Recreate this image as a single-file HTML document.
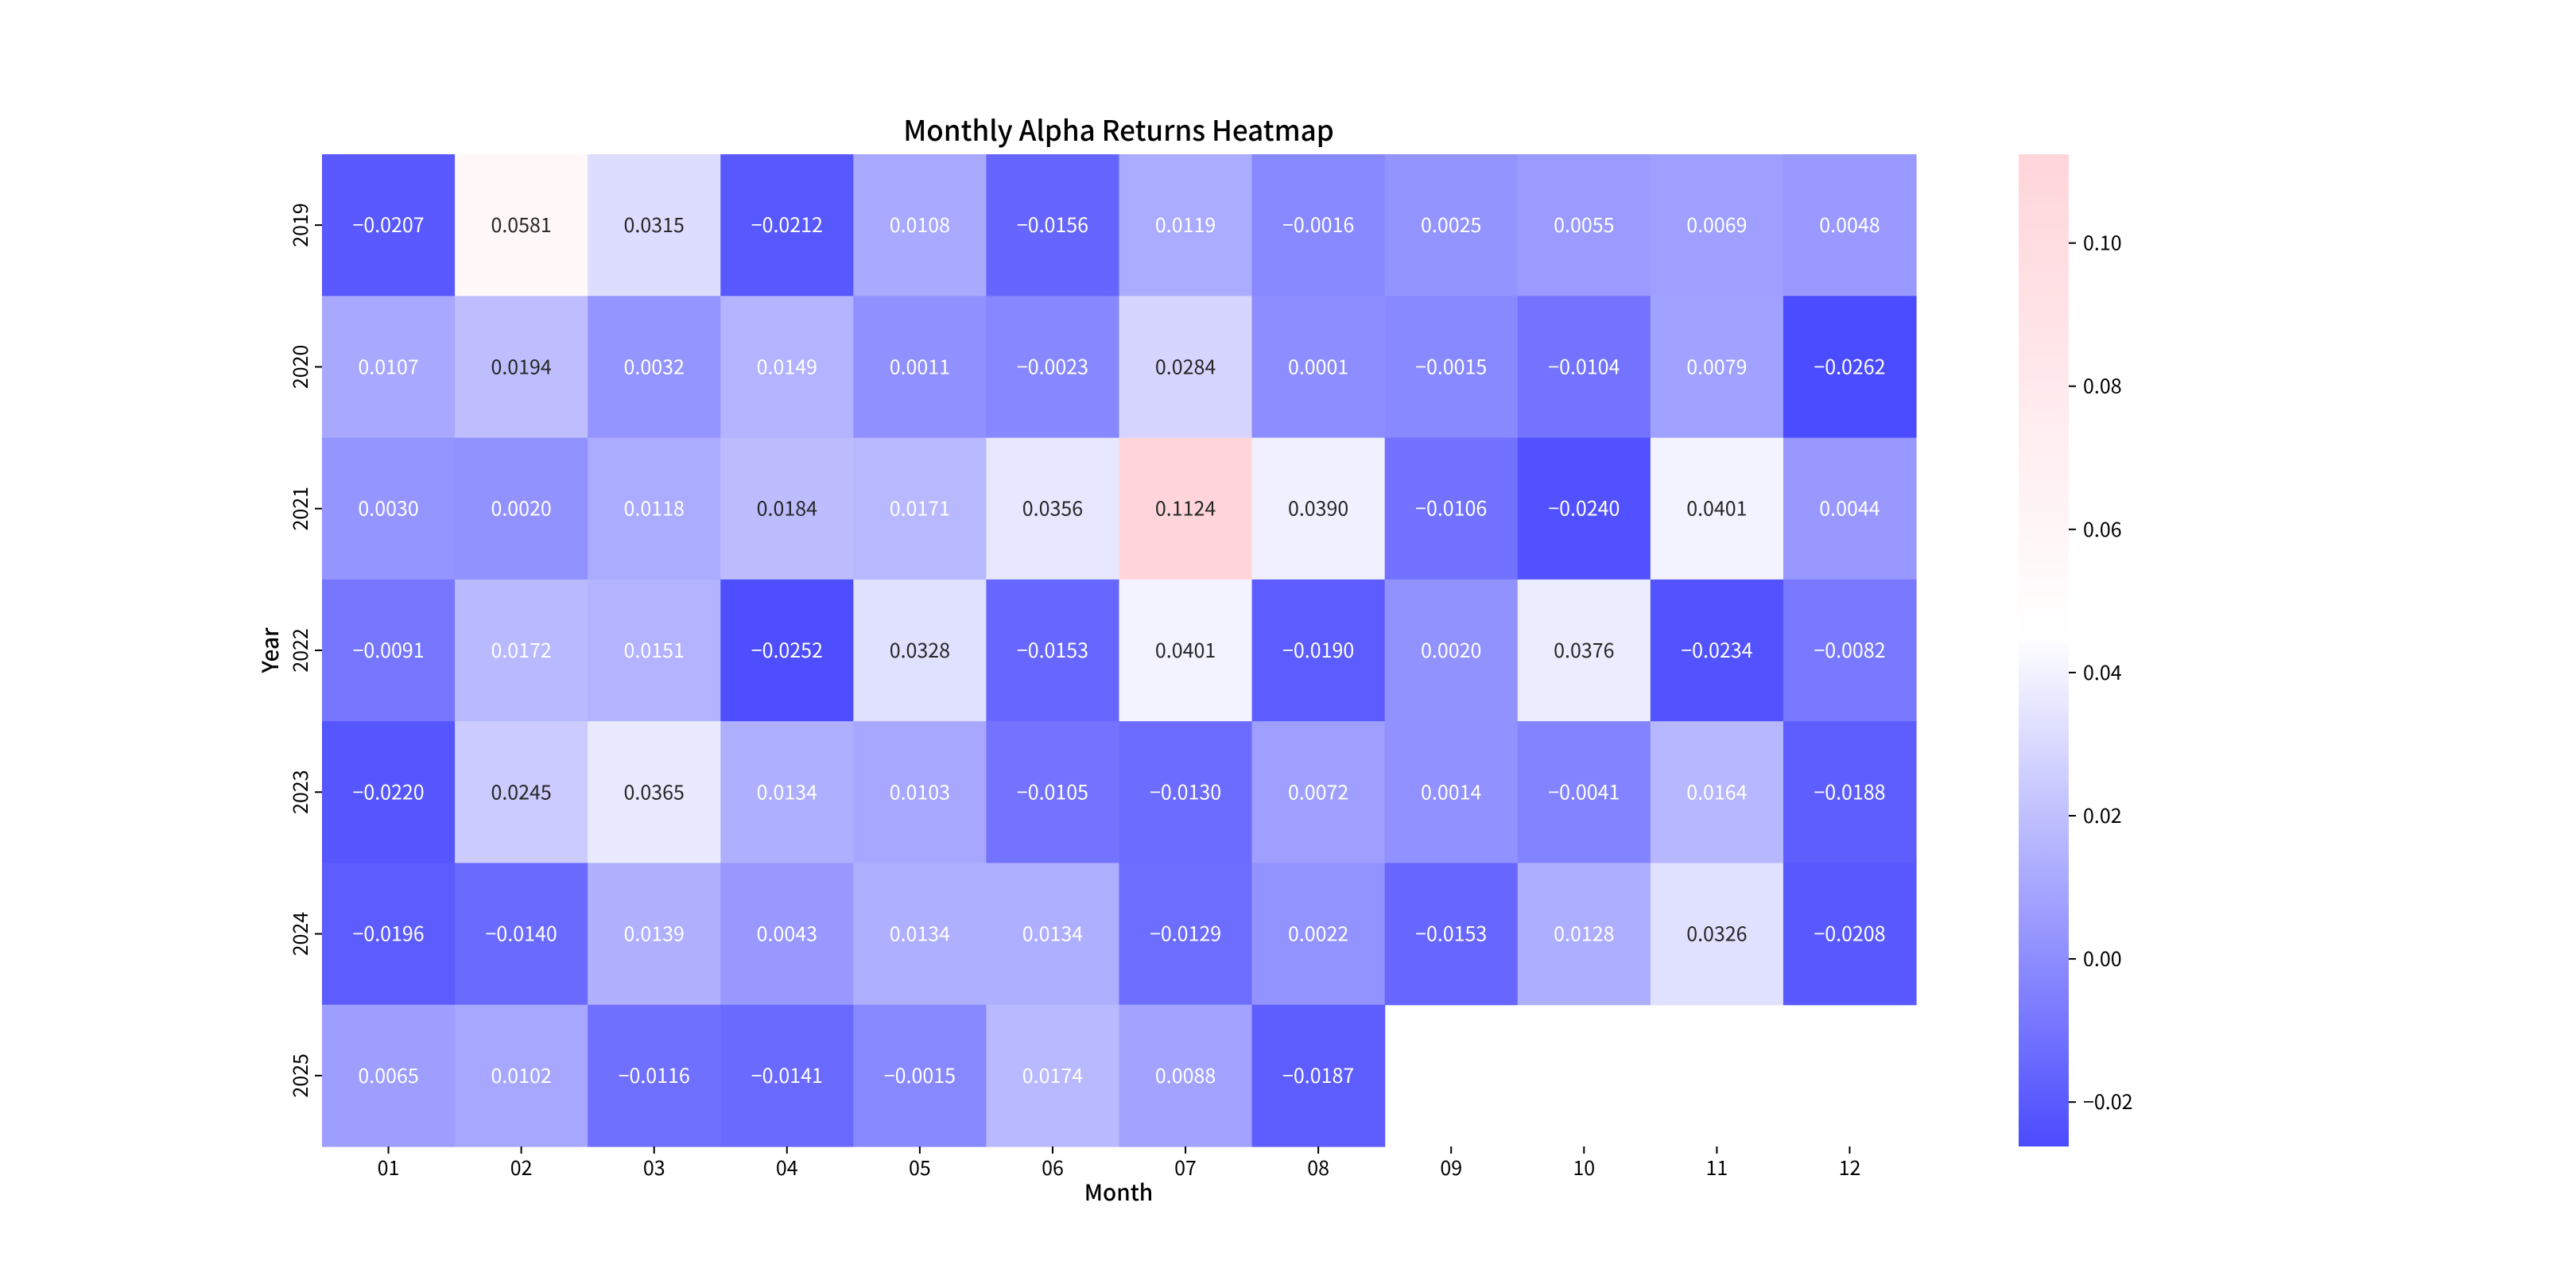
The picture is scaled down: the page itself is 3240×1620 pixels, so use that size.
<!DOCTYPE html>
<html><head><meta charset="utf-8">
<style>
html,body{margin:0;padding:0;background:#fff;}
svg{display:block;}
text{font-family:"Noto Sans CJK SC","WenQuanYi Zen Hei","DejaVu Sans",sans-serif;}
</style></head>
<body>
<svg id="chart" width="3240" height="1620" viewBox="0 0 3240 1620" xmlns="http://www.w3.org/2000/svg">
<defs>
<linearGradient id="cbgrad" x1="0" y1="1" x2="0" y2="0"></linearGradient>
</defs>
<text x="1407" y="177" font-size="35" font-weight="500" text-anchor="middle" fill="#000">Monthly Alpha Returns Heatmap</text>
<text x="1407" y="1510" font-size="28" font-weight="500" text-anchor="middle" fill="#000">Month</text>
<text x="0" y="0" font-size="28" font-weight="500" text-anchor="middle" fill="#000" transform="translate(350,818) rotate(-90)">Year</text>
<g id="cells"></g>
<g id="xticks"></g>
<g id="yticks"></g>
<g id="cbar"></g>
</svg>
<script>
const months = ["01","02","03","04","05","06","07","08","09","10","11","12"];
const years = ["2019","2020","2021","2022","2023","2024","2025"];
const row2019 = [-0.0207,0.0581,0.0315,-0.0212,0.0108,-0.0156,0.0119,-0.0016,0.0025,0.0055,0.0069,0.0048];
const row2020 = [0.0107,0.0194,0.0032,0.0149,0.0011,-0.0023,0.0284,0.0001,-0.0015,-0.0104,0.0079,-0.0262];
const row2021 = [0.0030,0.0020,0.0118,0.0184,0.0171,0.0356,0.1124,0.0390,-0.0106,-0.0240,0.0401,0.0044];
const row2022 = [-0.0091,0.0172,0.0151,-0.0252,0.0328,-0.0153,0.0401,-0.0190,0.0020,0.0376,-0.0234,-0.0082];
const row2023 = [-0.0220,0.0245,0.0365,0.0134,0.0103,-0.0105,-0.0130,0.0072,0.0014,-0.0041,0.0164,-0.0188];
const row2024 = [-0.0196,-0.0140,0.0139,0.0043,0.0134,0.0134,-0.0129,0.0022,-0.0153,0.0128,0.0326,-0.0208];
const row2025 = [0.0065,0.0102,-0.0116,-0.0141,-0.0015,0.0174,0.0088,-0.0187,null,null,null,null];
const rows = [row2019,row2020,row2021,row2022,row2023,row2024,row2025];
const cbTicks = [-0.02,0.00,0.02,0.04,0.06,0.08,0.10];

const NS="http://www.w3.org/2000/svg";
const L=405,T=194,R=2410,B=1442;
const cw=(R-L)/months.length, ch=(B-T)/years.length;
const all=rows.flat().filter(v=>v!==null);
const vmin=Math.min(...all), vmax=Math.max(...all), vc=0.045;
const blue=[75,75,255], pink=[255,213,218];
function color(v){
  let c;
  if(v<=vc){const t=(v-vmin)/(vc-vmin);c=blue.map(b=>Math.round(b+(255-b)*t));}
  else{const t=(v-vc)/(vmax-vc);c=pink.map(p=>Math.round(255+(p-255)*t));}
  return `rgb(${c[0]},${c[1]},${c[2]})`;
}
function mk(tag,attrs,parent){const e=document.createElementNS(NS,tag);for(const k in attrs)e.setAttribute(k,attrs[k]);parent.appendChild(e);return e;}
const gc=document.getElementById('cells');
rows.forEach((row,i)=>{row.forEach((v,j)=>{
  if(v===null)return;
  const r=mk('rect',{x:L+j*cw,y:T+i*ch,width:cw+0.6,height:ch+0.6,fill:color(v)},gc);
  
  
  const t=mk('text',{x:L+(j+0.5)*cw,y:T+(i+0.5)*ch+9,'font-size':25,'text-anchor':'middle',fill:v>0.018?'#262626':'#fff'},gc);
  
  
  t.textContent=(v<0?'\u2212':'')+Math.abs(v).toFixed(4);
});});
const gx=document.getElementById('xticks');
months.forEach((m,j)=>{const x=L+(j+0.5)*cw;
  const l=mk('line',{x1:x,x2:x,y1:B,y2:B+9,stroke:'#000','stroke-width':2},gx);
  
  
  const t=mk('text',{x:x,y:B+36,'font-size':25,'text-anchor':'middle',fill:'#000'},gx);
  
  
  t.textContent=m;});
const gy=document.getElementById('yticks');
years.forEach((yv,i)=>{const y=T+(i+0.5)*ch;
  const l=mk('line',{x1:L-9,x2:L,y1:y,y2:y,stroke:'#000','stroke-width':2},gy);
  
  
  const t=mk('text',{x:0,y:0,'font-size':25,'text-anchor':'middle',fill:'#000',transform:`translate(387,${y}) rotate(-90)`},gy);
  
  
  t.textContent=yv;});
const CL=2539,CR=2602;
const grad=document.getElementById('cbgrad');
[[vmin,0],[vc,(vc-vmin)/(vmax-vmin)],[vmax,1]].forEach(([v,o])=>{mk('stop',{offset:o,'stop-color':color(v)},grad);});
const gb=document.getElementById('cbar');
const cr=mk('rect',{x:CL,y:T,width:CR-CL,height:B-T,fill:'url(#cbgrad)'},gb);


const cy=v=>B-(v-vmin)/(vmax-vmin)*(B-T);
cbTicks.forEach(v=>{const y=cy(v);
  const l=mk('line',{x1:CR,x2:CR+9,y1:y,y2:y,stroke:'#000','stroke-width':2},gb);
  
  
  const t=mk('text',{x:CR+18,y:y+9,'font-size':25,fill:'#000'},gb);
  
  
  t.textContent=(v<0?'\u2212':'')+Math.abs(v).toFixed(2);});
</script>
</body></html>
